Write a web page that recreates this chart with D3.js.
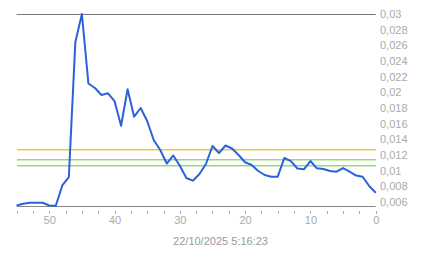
<!DOCTYPE html>
<html><head><meta charset="utf-8">
<script src="https://cdn.jsdelivr.net/npm/d3@7"></script>
<style>body{margin:0;background:#fff}svg{display:block}text{font-family:"Liberation Sans",Arial,sans-serif}</style>
</head><body>
<script>
const minutes = d3.range(55, -1, -1);
const values = [0.00555,0.00577,0.00591,0.00591,0.00591,0.00555,0.00553,0.00811,0.00919,0.02643,
0.03,0.02113,0.02055,0.01966,0.01988,0.01889,0.01574,0.02039,0.01689,0.018,
0.01634,0.01391,0.01264,0.01091,0.01194,0.01063,0.00906,0.00872,0.00957,0.01085,
0.01315,0.01225,0.01321,0.01283,0.012,0.01107,0.01072,0.00996,0.00945,0.00923,
0.00923,0.01162,0.01123,0.01028,0.01017,0.01123,0.0103,0.01021,0.00996,0.00987,
0.01034,0.00989,0.00938,0.00923,0.00804,0.00719];
const refLines = [0.0128, 0.01145, 0.01069];
const refColors = ["#ecc84a", "#98d878", "#98d878"];
const yTicks = [0.03,0.028,0.026,0.024,0.022,0.02,0.018,0.016,0.014,0.012,0.01,0.008,0.006];
const xMajor = [50,40,30,20,10,0];
const xMinor = d3.range(0, 55.1, 2.5);
const stamp = "22/10/2025 5:16:23";

const W=443,H=258;
const svg=d3.select("body").append("svg").attr("width",W).attr("height",H);
const x=d3.scaleLinear().domain([55,0]).range([16.6,375.7]);
const y=d3.scaleLinear().domain([0.00549,0.03]).range([206,14]);
const fmt=v=>String(+v.toFixed(3)).replace(".",",");

svg.append("g").selectAll("rect").data(refLines).join("rect")
 .attr("x",17).attr("width",359).attr("y",d=>Math.round(y(d))).attr("height",1.5)
 .attr("fill",(d,i)=>refColors[i]);

svg.append("line").attr("x1",16.6).attr("x2",375.7).attr("y1",14.5).attr("y2",14.5).attr("stroke","#777").attr("stroke-width",1);
svg.append("line").attr("x1",16.6).attr("x2",375.7).attr("y1",206.5).attr("y2",206.5).attr("stroke","#888").attr("stroke-width",1);

const ya=svg.append("g").attr("transform","translate(380,0)")
 .call(d3.axisRight(y).tickValues(yTicks).tickSize(0).tickPadding(0).tickFormat(fmt));
ya.select(".domain").remove();
ya.selectAll("text").attr("fill","#aaa").attr("font-size","11px").attr("text-anchor","start");

svg.append("g").selectAll("line").data(xMinor).join("line")
 .attr("x1",d=>Math.round(x(d))+0.5).attr("x2",d=>Math.round(x(d))+0.5)
 .attr("y1",211).attr("y2",214).attr("stroke","#aaa");

const xa=svg.append("g").attr("transform","translate(0,216)")
 .call(d3.axisBottom(x).tickValues(xMajor).tickSize(0).tickPadding(0).tickFormat(d3.format("d")));
xa.select(".domain").remove();
xa.selectAll("text").attr("fill","#aaa").attr("font-size","11px").attr("dy","0.71em");

svg.append("text").attr("x",220.5).attr("y",245).attr("text-anchor","middle")
 .attr("fill","#999").attr("font-size","11px").text(stamp);

const line=d3.line().x((d,i)=>x(minutes[i])).y(d=>y(d));
svg.append("path").datum(values).attr("d",line).attr("fill","none")
 .attr("stroke","#2a62d9").attr("stroke-width",2).attr("stroke-linejoin","round");
</script>
</body></html>
